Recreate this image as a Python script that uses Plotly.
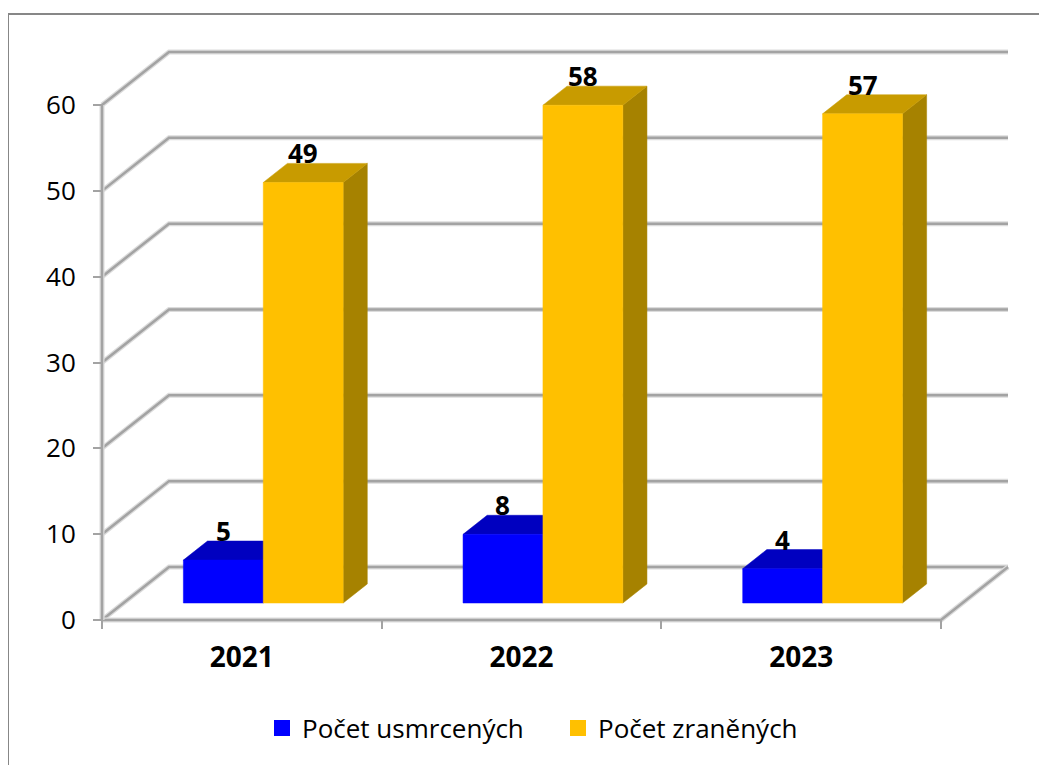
import plotly.graph_objects as go

# ---------------- data ----------------
years = ["2021", "2022", "2023"]
killed = [5, 8, 4]
injured = [49, 58, 57]
series_names = ["Počet usmrcených", "Počet zraněných"]
series_values = [killed, injured]
y_ticks = [0, 10, 20, 30, 40, 50, 60]

# ---------------- styles ----------------
front_colors = ["#0000FF", "#FFC000"]
top_colors = ["#0000C0", "#C89B00"]
side_colors = ["#0000A0", "#A68200"]
grid_core = "#A3A3A3"
grid_halo = "#DCDCDC"
FONT = "Open Sans"

# pseudo-3D geometry (in axis units)
N = len(years)
YMAX = max(y_ticks)
DX = 0.2396          # depth shift along x (category units)
DY = 6.18            # depth shift along y (value units)
F0, F1 = 0.32, 0.68  # bar depth position (fraction of depth)
W = 0.2857           # bar width (category units)
GAP = (1 - 2 * W) / 2

# pixel placement (page px minus the 8px body margin)
OFF = 8
W_PX, H_PX = 1047, 765
X0_PX, X1_PX = 102 - OFF, 1008 - OFF
Y0_PX, Y1_PX = 620 - OFF, 52 - OFF
PAD = 4
xspan = N + DX
sx = (X1_PX - X0_PX) / xspan
yspan = YMAX + DY
sy = (Y0_PX - Y1_PX) / yspan
xr = [-PAD / sx, xspan + PAD / sx]
yr = [-PAD / sy, yspan + PAD / sy]
ml = X0_PX - PAD
mr = W_PX - (X1_PX + PAD)
mt = Y1_PX - PAD
mb = H_PX - (Y0_PX + PAD)
plot_w = W_PX - ml - mr
plot_h = H_PX - mt - mb


def px_to_paper_x(px):
    return (px - OFF - ml) / plot_w


def px_to_paper_y(py):
    return (H_PX - mb - (py - OFF)) / plot_h


fig = go.Figure()

# legend entries
for name, col in zip(series_names, front_colors):
    fig.add_trace(go.Scatter(x=[None], y=[None], mode="markers", name=name,
                             marker=dict(symbol="square", size=18, color=col)))


def line(xs, ys):
    fig.add_trace(go.Scatter(x=xs, y=ys, mode="lines", showlegend=False, hoverinfo="skip",
                             line=dict(color=grid_halo, width=5)))
    fig.add_trace(go.Scatter(x=xs, y=ys, mode="lines", showlegend=False, hoverinfo="skip",
                             line=dict(color=grid_core, width=2.5)))


# back wall / side wall gridlines
for v in y_ticks:
    line([0, DX, N + DX], [v, v + DY, v + DY])
# floor
line([0, N, N + DX], [0, 0, DY])
# front value axis
line([0, 0], [0, YMAX])


def poly(xs, ys, color):
    fig.add_trace(go.Scatter(x=xs + [xs[0]], y=ys + [ys[0]], mode="lines", fill="toself",
                             fillcolor=color, line=dict(width=0.5, color=color),
                             showlegend=False, hoverinfo="skip"))


ddx = (F1 - F0) * DX
ddy = (F1 - F0) * DY
base = F0 * DY
annotations = []
for i in range(N):
    for s, vals in enumerate(series_values):
        v = vals[i]
        x0 = i + F0 * DX + GAP + s * W
        x1 = x0 + W
        top = base + v
        # side face
        poly([x1, x1 + ddx, x1 + ddx, x1], [base, base + ddy, top + ddy, top], side_colors[s])
        # top face
        poly([x0, x1, x1 + ddx, x0 + ddx], [top, top, top + ddy, top + ddy], top_colors[s])
        # front face
        poly([x0, x1, x1, x0], [base, base, top, top], front_colors[s])
        annotations.append(dict(x=(x0 + x1) / 2, y=top + ddy, xref="x", yref="y",
                                text=f"<b>{v}</b>", showarrow=False, yanchor="bottom",
                                yshift=-10, font=dict(family=FONT, size=26, color="black")))

fig.update_layout(
    width=W_PX, height=H_PX,
    margin=dict(l=ml, r=mr, t=mt, b=mb),
    paper_bgcolor="white", plot_bgcolor="white",
    font=dict(family=FONT, color="black"),
    annotations=annotations,
    showlegend=True,
    legend=dict(orientation="h", x=px_to_paper_x(262), xanchor="left",
                y=px_to_paper_y(728), yanchor="middle",
                entrywidth=251, entrywidthmode="pixels",
                font=dict(family=FONT, size=26, color="black"),
                itemsizing="trace", bgcolor="rgba(0,0,0,0)"),
    xaxis=dict(range=xr, tickmode="array", tickvals=[i + 0.5 for i in range(N)], ticktext=years,
               ticks="", showgrid=False, zeroline=False, showline=False,
               tickfont=dict(family=FONT, size=28, color="black", weight="bold"),
               ticklabelstandoff=18,
               minor=dict(tickmode="array", tickvals=list(range(N + 1)), ticks="outside",
                          ticklen=8, tickwidth=2, tickcolor=grid_core, showgrid=False),
               anchor="free", position=PAD / plot_h, fixedrange=True),
    yaxis=dict(range=yr, tickmode="array", tickvals=y_ticks, ticks="outside", ticklen=9,
               tickwidth=2, tickcolor=grid_core, showgrid=False, zeroline=False, showline=False,
               tickfont=dict(family=FONT, size=26, color="black"),
               ticklabelstandoff=12,
               anchor="free", position=PAD / plot_w, fixedrange=True),
    shapes=[dict(type="rect", xref="paper", yref="paper",
                 x0=px_to_paper_x(8), x1=px_to_paper_x(1080),
                 y0=px_to_paper_y(800), y1=px_to_paper_y(14),
                 line=dict(color="#878787", width=2), layer="below")],
)

fig.write_html("out.html")
